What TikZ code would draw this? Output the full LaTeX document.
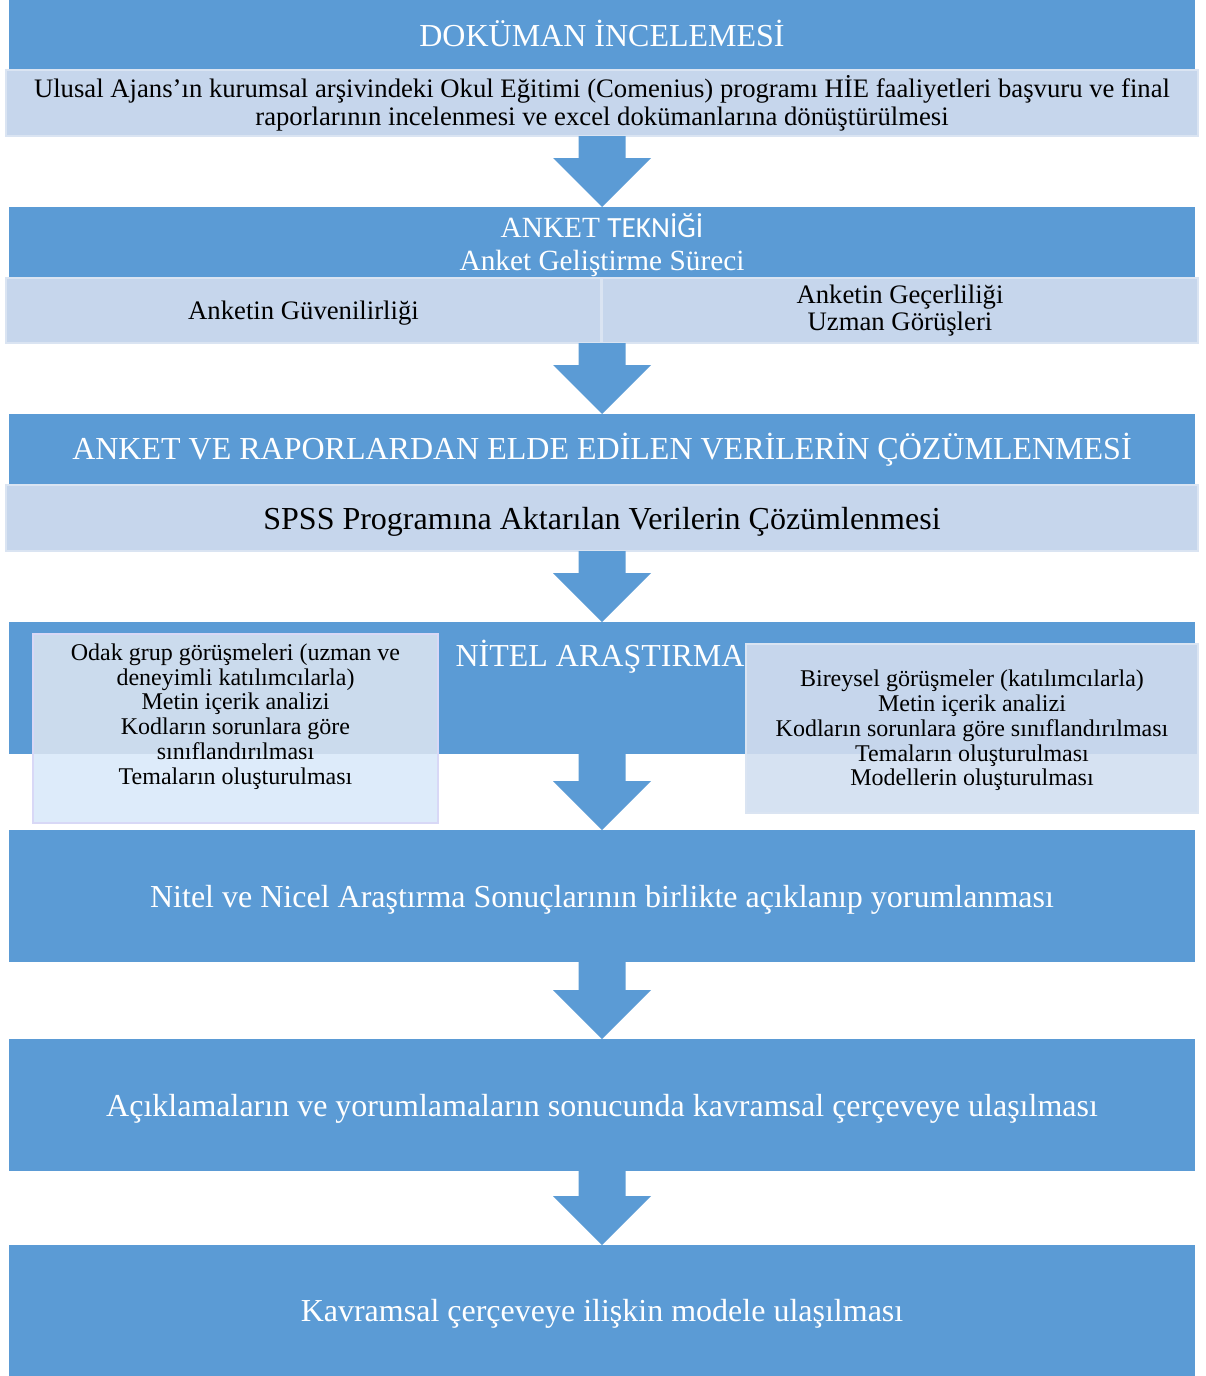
\documentclass[tikz,border=0pt]{standalone}
\usepackage{fontspec}
\setmainfont{Liberation Serif}
\newfontfamily\carl{Carlito}
\usetikzlibrary{calc}
\definecolor{bl}{RGB}{91,155,213}
\definecolor{lt}{RGB}{198,214,236}
\definecolor{ltedge}{RGB}{218,228,242}
\definecolor{lowL}{RGB}{221,235,250}
\definecolor{topL}{RGB}{203,219,237}
\definecolor{lowR}{RGB}{214,226,242}
\definecolor{topR}{RGB}{198,214,236}
\definecolor{lav}{RGB}{216,216,246}
\newcommand\blockarrow[2]{%
  \fill[bl] let \p1=(#1.south), \p2=(#2.north) in
    (\x2-23.5pt,\y1) -- (\x2+23.5pt,\y1) -- (\x2+23.5pt,\y2+49pt) -- (\x2+49pt,\y2+49pt)
    -- (\x2,\y2) -- (\x2-49pt,\y2+49pt) -- (\x2-23.5pt,\y2+49pt) -- cycle;}
\begin{document}
\begin{tikzpicture}[x=1pt,y=-1pt,
  box/.style={anchor=north west, inner sep=0pt, outer sep=0pt, align=center},
  bluebox/.style={box, fill=bl, text=white, minimum width=1186pt},
  lightbox/.style={box, fill=lt, draw=ltedge, line width=1.5pt},
  hdr/.style={font=\fontsize{32}{34}\selectfont},
  body/.style={font=\fontsize{26.7}{28}\selectfont},
  big/.style={font=\fontsize{32}{34}\selectfont},
  small/.style={font=\fontsize{24}{24.8}\selectfont, align=center, inner sep=0pt},
  lower/.style={text depth=0pt}]
\useasboundingbox (0,0) rectangle (1205,1376);
% row 1
\node[bluebox, hdr, text height=23pt, minimum height=70pt] (b1) at (9,0) {DOKÜMAN İNCELEMESİ};
\node[lightbox, body, minimum width=1192pt, minimum height=66pt] (l1) at (6,70)
  {Ulusal Ajans’ın kurumsal arşivindeki Okul Eğitimi (Comenius) programı HİE faaliyetleri başvuru ve final\\
   raporlarının incelenmesi ve excel dokümanlarına dönüştürülmesi};
% row 2
\node[bluebox, lower, font=\fontsize{29.3}{33}\selectfont, minimum height=71pt] (b2) at (9,207)
  {ANKET {\carl TEKNİĞİ}\\Anket Geliştirme Süreci};
\node[lightbox, lower, body, minimum width=595pt, minimum height=65pt] (l2a) at (6,278) {Anketin Güvenilirliği};
\node[lightbox, font=\fontsize{26.7}{27}\selectfont, minimum width=596pt, minimum height=65pt] (l2b) at (602,278)
  {Anketin Geçerliliği\\Uzman Görüşleri};
% row 3
\node[bluebox, hdr, minimum height=71pt] (b3) at (9,414)
  {ANKET VE RAPORLARDAN ELDE EDİLEN VERİLERİN ÇÖZÜMLENMESİ};
\node[lightbox, lower, big, minimum width=1192pt, minimum height=66pt] (l3) at (6,485)
  {SPSS Programına Aktarılan Verilerin Çözümlenmesi};
% row 4
\node[bluebox, minimum height=132pt] (b4) at (9,622) {};
\node[hdr, text=white, inner sep=0pt] (t4) at (600,657) {NİTEL ARAŞTIRMA};
\node[box, fill=lowL, minimum width=405pt, minimum height=189pt] (nL) at (33,634) {};
\fill[topL] (nL.north west) rectangle (nL.east |- b4.south);
\draw[lav, line width=1.5pt] (nL.north west) rectangle (nL.south east);
\node[box, fill=lowR, minimum width=452pt, minimum height=169pt] (nR) at (746,644) {};
\fill[topR] (nR.north west) rectangle (nR.east |- b4.south);
\draw[ltedge, line width=1.5pt] (nR.north west) rectangle (nR.south east);
\node[small] (tL) at (235.5,716.5) {Odak grup görüşmeleri (uzman ve\\deneyimli katılımcılarla)\\Metin içerik analizi\\Kodların sorunlara göre\\sınıflandırılması\\Temaların oluşturulması};
\node[small] (tR) at (972,730.5) {Bireysel görüşmeler (katılımcılarla)\\Metin içerik analizi\\Kodların sorunlara göre sınıflandırılması\\Temaların oluşturulması\\Modellerin oluşturulması};
% rows 5-7
\node[bluebox, lower, big, minimum height=132pt] (b5) at (9,830)
  {Nitel ve Nicel Araştırma Sonuçlarının birlikte açıklanıp yorumlanması};
\node[bluebox, lower, big, minimum height=132pt] (b6) at (9,1039)
  {Açıklamaların ve yorumlamaların sonucunda kavramsal çerçeveye ulaşılması};
\node[bluebox, lower, big, minimum height=131pt] (b7) at (9,1245)
  {Kavramsal çerçeveye ilişkin modele ulaşılması};
% arrows
\blockarrow{l1}{b2}
\blockarrow{l2a}{b3}
\blockarrow{l3}{b4}
\blockarrow{b4}{b5}
\blockarrow{b5}{b6}
\blockarrow{b6}{b7}
\end{tikzpicture}
\end{document}
